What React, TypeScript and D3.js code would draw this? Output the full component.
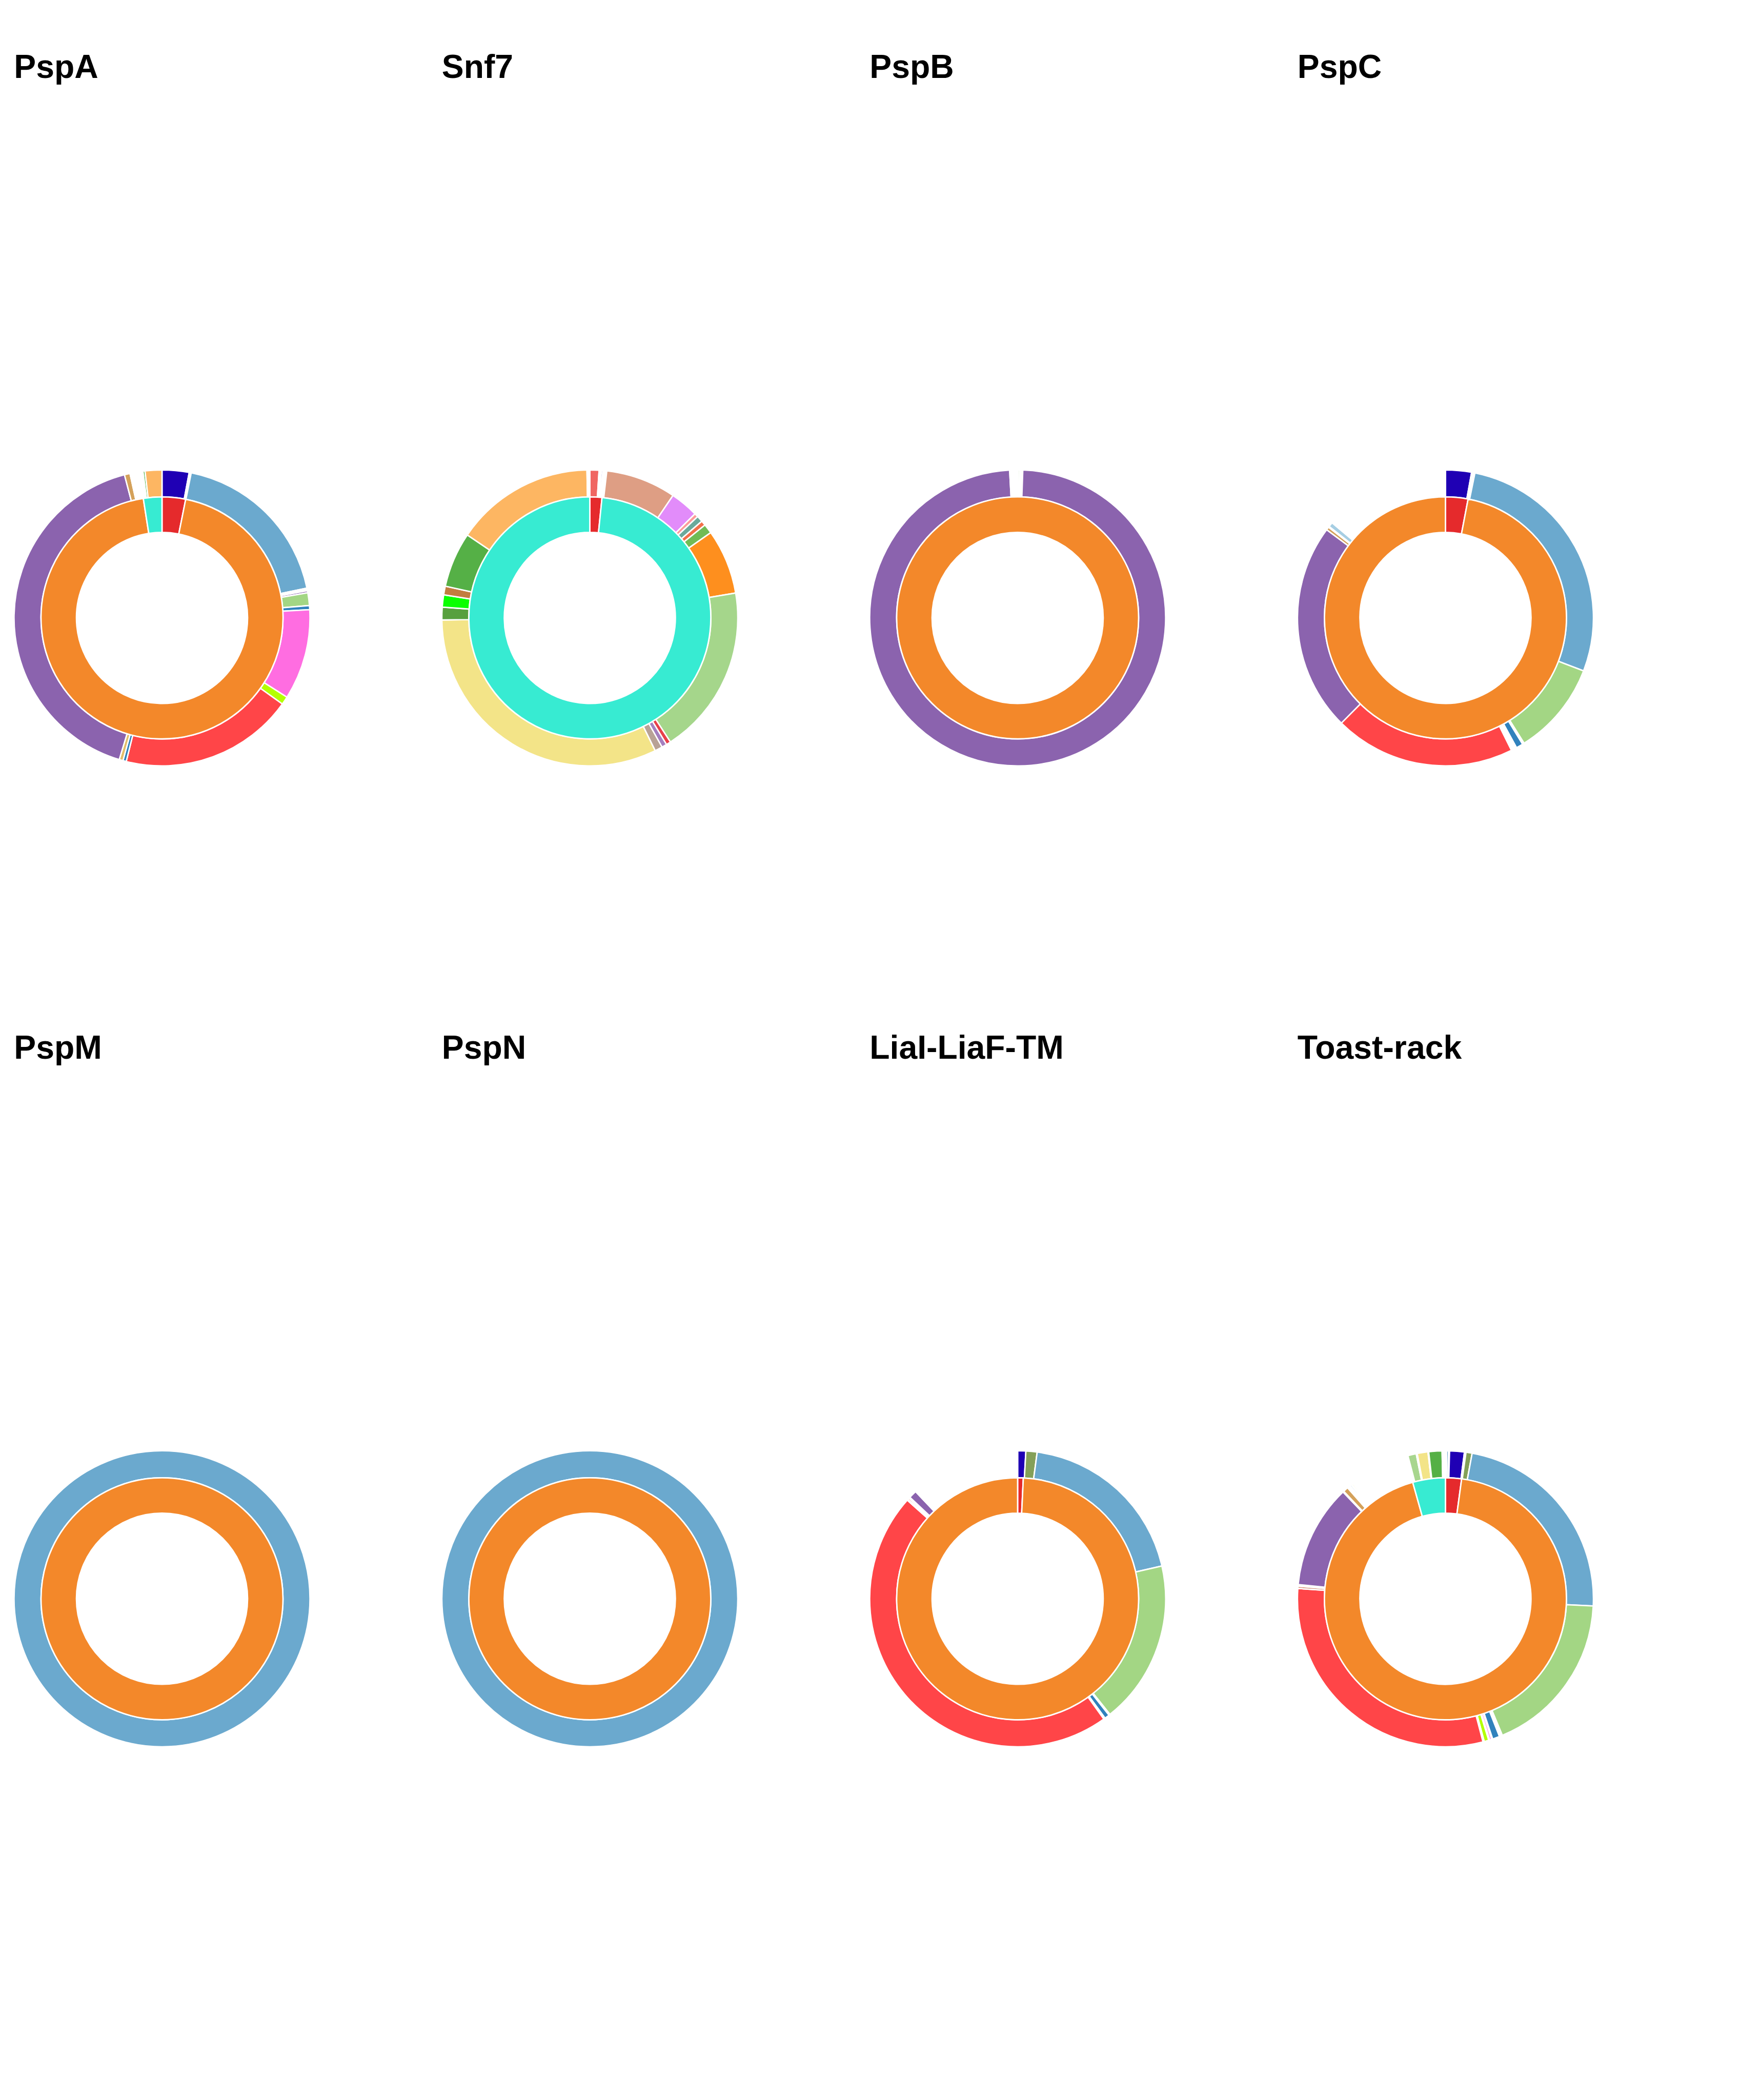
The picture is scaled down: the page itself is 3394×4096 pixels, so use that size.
import React, { useEffect, useRef } from "react";
import * as d3 from "d3";

// sizes are in reference pixels, scaled down at the end
const W = 3394;
const H = 4096;
const S = 0.684;
const R0 = 422; // outer ring, outside
const R1 = 345; // ring split
const R2 = 244; // inner ring, inside

// colours
const ORANGE = "#f3882a";
const RED_IN = "#e52a2c";
const CYAN = "#37ebd2";
const WHITE = "#ffffff";
const DARKBLUE = "#1f00b4";
const LIGHTBLUE = "#6ba9ce";
const LIGHTGREEN = "#a3d684";
const PINK = "#ff6de1";
const LIME = "#b4ff00";
const CORAL = "#ff4548";
const PURPLE = "#8b63ae";
const TAN = "#d4a15a";
const LIGHTORANGE = "#fdb662";
const BLUE = "#3182bd";
const GREEN = "#55b046";
const OLIVE = "#84a058";
const YELLOW = "#f3e488";
const PALEBLUE = "#a6cee3";

const titles = ["PspA", "Snf7", "PspB", "PspC", "PspM", "PspN", "LiaI-LiaF-TM", "Toast-rack"];

// PspA
const pspAInner = [11.3, 339.8, 8.9];
const pspAInnerColors = [RED_IN, ORANGE, CYAN];
const pspAOuter = [10.6, 0.4, 0.4, 67.0, 1.0, 0.8, 5.0, 1.6, 35.6, 3.2, 68.4, 1.3, 1.5, 148.5, 2.2, 5.1, 0.8, 6.6];
const pspAOuterColors = [DARKBLUE, WHITE, OLIVE, LIGHTBLUE, WHITE, PURPLE, LIGHTGREEN, BLUE, PINK, LIME, CORAL, BLUE, "#e3bd6a", PURPLE, TAN, WHITE, "#4caf3c", LIGHTORANGE];

// Snf7
const snf7Inner = [5.8, 354.2];
const snf7InnerColors = [RED_IN, CYAN];
const snf7Outer = [3.6, 0.9, 0.6, 1.5, 27.6, 11.1, 1.5, 2.4, 1.9, 3.7, 25.5, 66.7, 1.8, 2.0, 3.0, 115.4, 5.0, 4.8, 3.4, 21.7, 54.8, 1.1];
const snf7OuterColors = ["#f06662", WHITE, "#7a7ae6", WHITE, "#de9e84", "#e28cfa", "#fb9a99", "#6aaa9c", "#f2704a", "#70bb55", "#fe8f1e", "#a5d68b", "#e8404a", "#a47fbf", "#b8a296", YELLOW, "#57a03e", "#0aff00", "#c27d3f", GREEN, LIGHTORANGE, WHITE];

// PspB
const pspBInner = [360];
const pspBInnerColors = [ORANGE];
const pspBOuter = [0.2, 0.6, 1.2, 354.9, 0.4, 0.5, 2.2];
const pspBOuterColors = [WHITE, LIGHTGREEN, WHITE, PURPLE, WHITE, "#e0a040", WHITE];

// PspC
const pspCInner = [10.8, 349.2];
const pspCInnerColors = [RED_IN, ORANGE];
const pspCOuter = [10.2, 0.8, 0.5, 99.5, 36.9, 0.7, 2.7, 2.2, 71.2, 81.9, 1.2, 0.4, 1.8, 50];
const pspCOuterColors = [DARKBLUE, WHITE, "#c8e6c0", LIGHTBLUE, LIGHTGREEN, WHITE, BLUE, WHITE, CORAL, PURPLE, TAN, WHITE, PALEBLUE, WHITE];

// PspM
const pspMInner = [360];
const pspMInnerColors = [ORANGE];
const pspMOuter = [360];
const pspMOuterColors = [LIGHTBLUE];

// PspN
const pspNInner = [360];
const pspNInnerColors = [ORANGE];
const pspNOuter = [360];
const pspNOuterColors = [LIGHTBLUE];

// LiaI-LiaF-TM
const liaInner = [2.7, 357.3];
const liaInnerColors = [RED_IN, ORANGE];
const liaOuter = [3.2, 4.4, 69.6, 64.2, 0.5, 1.9, 0.6, 167.4, 0.4, 0.6, 0.5, 3.1, 43.6];
const liaOuterColors = [DARKBLUE, OLIVE, LIGHTBLUE, LIGHTGREEN, WHITE, BLUE, WHITE, CORAL, WHITE, "#e8452c", WHITE, PURPLE, WHITE];

// Toast-rack
const toastInner = [7.7, 336.6, 15.7];
const toastInnerColors = [RED_IN, ORANGE, CYAN];
const toastOuter = [0.5, 0.7, 0.4, 5.8, 0.6, 2.4, 82.4, 64.6, 1.2, 2.8, 0.4, 0.8, 0.4, 1.8, 0.5, 108.7, 0.9, 0.6, 40.7, 0.4, 2.0, 1.2, 0.6, 0.3, 0.6, 24.0, 3.3, 0.4, 4.2, 0.3, 5.2, 0.3, 0.4, 0.6];
const toastOuterColors = [WHITE, BLUE, WHITE, DARKBLUE, WHITE, OLIVE, LIGHTBLUE, LIGHTGREEN, WHITE, BLUE, WHITE, PINK, WHITE, LIME, WHITE, CORAL, "#d8937a", WHITE, PURPLE, WHITE, TAN, WHITE, PALEBLUE, WHITE, "#f5f08a", WHITE, "#a8d68e", WHITE, YELLOW, WHITE, GREEN, WHITE, "#f5a04a", WHITE];

const charts = [
  { inner: pspAInner, innerColors: pspAInnerColors, outer: pspAOuter, outerColors: pspAOuterColors },
  { inner: snf7Inner, innerColors: snf7InnerColors, outer: snf7Outer, outerColors: snf7OuterColors },
  { inner: pspBInner, innerColors: pspBInnerColors, outer: pspBOuter, outerColors: pspBOuterColors },
  { inner: pspCInner, innerColors: pspCInnerColors, outer: pspCOuter, outerColors: pspCOuterColors },
  { inner: pspMInner, innerColors: pspMInnerColors, outer: pspMOuter, outerColors: pspMOuterColors },
  { inner: pspNInner, innerColors: pspNInnerColors, outer: pspNOuter, outerColors: pspNOuterColors },
  { inner: liaInner, innerColors: liaInnerColors, outer: liaOuter, outerColors: liaOuterColors },
  { inner: toastInner, innerColors: toastInnerColors, outer: toastOuter, outerColors: toastOuterColors },
];

export default function App() {
  const svgRef = useRef<SVGSVGElement>(null);

  useEffect(() => {
    const svg = d3.select(svgRef.current);
    svg.selectAll("*").remove();

    svg.append("rect").attr("width", W).attr("height", H).attr("fill", "white");
    const root = svg.append("g").attr("transform", `scale(${S})`);

    const pie = d3.pie<number>().sort(null).value((d) => d);
    const outerArc = d3.arc<d3.PieArcDatum<number>>().innerRadius(R1).outerRadius(R0);
    const innerArc = d3.arc<d3.PieArcDatum<number>>().innerRadius(R2).outerRadius(R1);

    charts.forEach((c, i) => {
      const col = i % 4;
      const row = Math.floor(i / 4);
      const cx = 462 + col * 1220;
      const cy = 1762 + row * 2797;

      root
        .append("text")
        .attr("x", cx - R0)
        .attr("y", cy - 1540)
        .attr("font-family", "'Liberation Sans', Arial, sans-serif")
        .attr("font-weight", "bold")
        .attr("font-size", 94)
        .attr("fill", "black")
        .text(titles[i]);

      const g = root.append("g").attr("transform", `translate(${cx},${cy})`);

      g.append("g")
        .selectAll("path")
        .data(pie(c.outer))
        .join("path")
        .attr("d", outerArc)
        .attr("fill", (d) => c.outerColors[d.index])
        .attr("stroke", "white")
        .attr("stroke-width", 4);

      g.append("g")
        .selectAll("path")
        .data(pie(c.inner))
        .join("path")
        .attr("d", innerArc)
        .attr("fill", (d) => c.innerColors[d.index])
        .attr("stroke", "white")
        .attr("stroke-width", 4);
    });
  }, []);

  return (
    <svg
      ref={svgRef}
      width={W}
      height={H}
      style={{ position: "absolute", left: 0, top: 0, display: "block" }}
    />
  );
}
